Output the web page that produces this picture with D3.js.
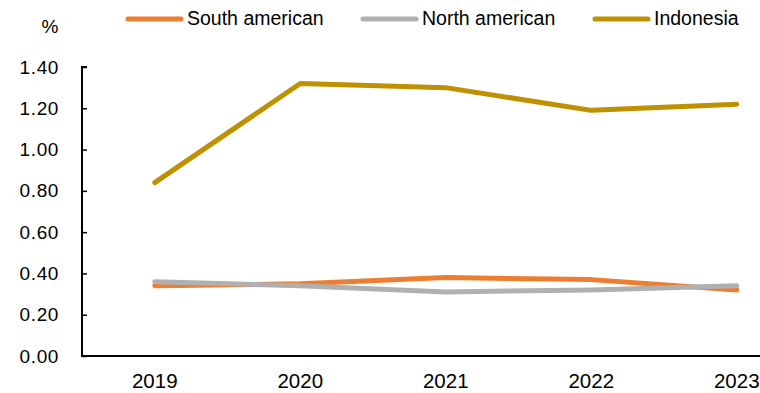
<!DOCTYPE html>
<html>
<head>
<meta charset="utf-8">
<script src="https://cdn.jsdelivr.net/npm/d3@7"></script>
<style>
body { margin: 0; background: #fff; }
svg { display: block; font-family: "Liberation Sans", Arial, sans-serif; }
</style>
</head>
<body>
<div class="content"></div>
<script>
var years = ["2019", "2020", "2021", "2022", "2023"];
var southAmerican = [0.34, 0.35, 0.38, 0.37, 0.32];
var northAmerican = [0.36, 0.34, 0.31, 0.32, 0.34];
var indonesia = [0.84, 1.32, 1.30, 1.19, 1.22];
var yTicks = [0, 0.2, 0.4, 0.6, 0.8, 1.0, 1.2, 1.4];

var series = [
  {name: "South american", values: southAmerican, color: "#ED7D31"},
  {name: "North american", values: northAmerican, color: "#B0B0B0"},
  {name: "Indonesia", values: indonesia, color: "#BF9000"}
];

var width = 760, height = 393;
var svg = d3.select(".content").append("svg").attr("width", width).attr("height", height);

var x = d3.scaleBand().domain(years).range([82, 82 + 5 * 145.5]);
var y = d3.scaleLinear().domain([0, 1.4]).range([356, 67]);

// y axis, ticks pointing inward
var yAxis = svg.append("g").attr("transform", "translate(82,0)")
  .call(d3.axisRight(y).tickValues(yTicks).tickSize(5).tickFormat(d3.format(".2f")));
yAxis.select(".domain").attr("d", "M5," + y(1.4) + "H0V" + y(0)).attr("stroke-width", 2);
yAxis.selectAll(".tick line").attr("stroke-width", 1.5);
yAxis.selectAll(".tick text").attr("x", -23).attr("text-anchor", "end")
  .attr("font-size", 19).attr("letter-spacing", 0.6).attr("fill", "#000")
  .attr("font-family", "Liberation Sans, Arial, sans-serif");

// x axis
var xAxis = svg.append("g").attr("transform", "translate(0," + y(0) + ")")
  .call(d3.axisBottom(x).tickSize(0).tickPadding(17));
xAxis.select(".domain").attr("d", "M81,0H760").attr("stroke-width", 2);
xAxis.selectAll(".tick text").attr("font-size", 20.5).attr("fill", "#000")
  .attr("font-family", "Liberation Sans, Arial, sans-serif");

svg.append("text").attr("x", 50).attr("y", 33).attr("text-anchor", "middle")
  .attr("font-size", 19).text("%");

var line = d3.line()
  .x(function(d, i) { return x(years[i]) + x.bandwidth() / 2; })
  .y(function(d) { return y(d); });

series.forEach(function(s) {
  svg.append("path").datum(s.values).attr("d", line)
    .attr("fill", "none").attr("stroke", s.color).attr("stroke-width", 5)
    .attr("stroke-linecap", "round").attr("stroke-linejoin", "round");
});

// legend
var legendX = [128, 363, 595];
series.forEach(function(s, i) {
  var g = svg.append("g").attr("transform", "translate(" + legendX[i] + ",19)");
  g.append("line").attr("x1", 0).attr("x2", 53).attr("y1", 0).attr("y2", 0)
    .attr("stroke", s.color).attr("stroke-width", 5).attr("stroke-linecap", "round");
  g.append("text").attr("x", 59).attr("y", 6).attr("font-size", 19.5).text(s.name);
});
</script>
</body>
</html>
